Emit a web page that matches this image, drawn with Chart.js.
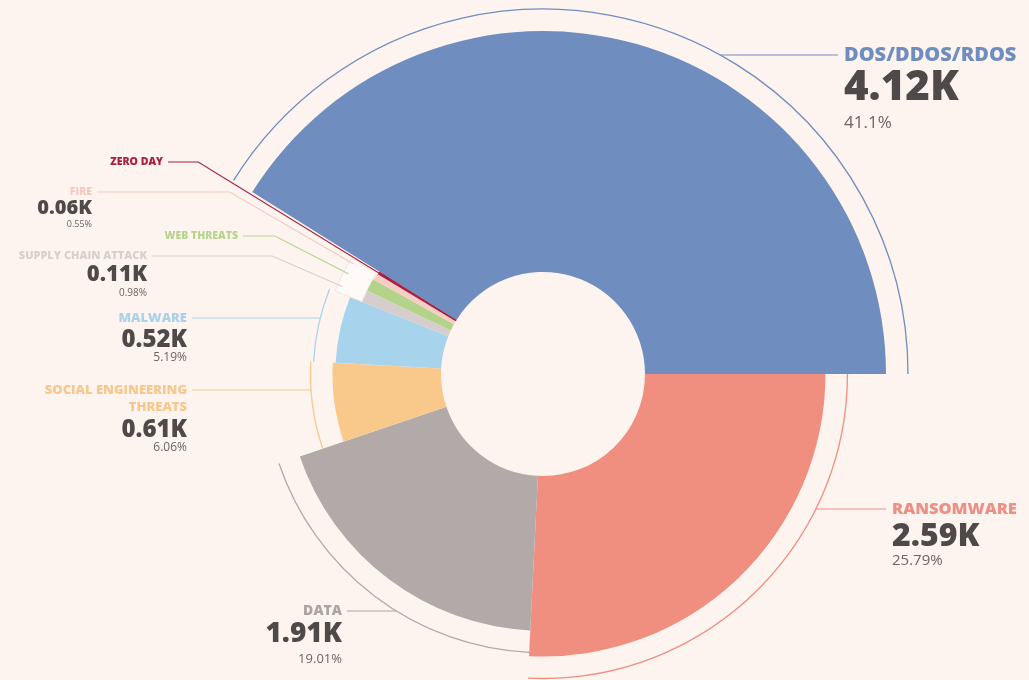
<!DOCTYPE html>
<html>
<head>
<meta charset="utf-8">
<script src="https://cdn.jsdelivr.net/npm/chart.js@4.4.1/dist/chart.umd.min.js"></script>
<style>
  html, body { margin: 0; padding: 0; background: #fdf4f0; }
  #wrap { width: 1029px; height: 680px; position: relative; }
</style>
</head>
<body>
<div id="wrap"><canvas id="threats"></canvas></div>
<script>
// DATA
const categories = [
  "DOS/DDOS/RDOS",
  "RANSOMWARE",
  "DATA",
  ["SOCIAL ENGINEERING", "THREATS"],
  "MALWARE",
  "SUPPLY CHAIN ATTACK",
  "WEB THREATS",
  "FIRE",
  "ZERO DAY",
];
const shares = [41.1, 25.79, 19.01, 6.06, 5.19, 0.98, 1.07, 0.55, 0.25]; // percent
const counts = [4.12, 2.59, 1.91, 0.61, 0.52, 0.11, 0.1, 0.06, 0.03]; // thousands

// COLORS
const sliceColors = ["#6f8dbf", "#f08e80", "#b2aaa8", "#f9c98b", "#a8d3ec", "#d5cecd", "#b4d38a", "#f5cdc4", "#a9203e"];
const titleColors = ["#6f8dbf", "#ee8f85", "#aaa4a3", "#f6c88e", "#a9d2ea", "#d6d0cf", "#b7d48f", "#f3c9c0", "#a9203e"];
const valueColor = "#4f4a49";
const pctColor = "#6b6564";

// LAYOUT (label positions, not data)
const layout = [
  { side: "right", x: 844, lines: [55], valueY: 88, pctY: 123, size: [20, 42, 17], lead: "h" },
  { side: "right", x: 892, lines: [509], valueY: 537, pctY: 561, size: [16.5, 32, 15], lead: "h" },
  { side: "left", x: 342, lines: [611], valueY: 634, pctY: 659, size: [14, 28, 13], lead: "h" },
  { side: "left", x: 187, lines: [390, 407], valueY: 430, pctY: 448, size: [13, 24, 12], lead: "h" },
  { side: "left", x: 187, lines: [318], valueY: 340, pctY: 358, size: [13, 24, 12], lead: "h" },
  { side: "left", x: 147, lines: [256], valueY: 275, pctY: 293, size: [11, 22, 10], lead: "r" },
  { side: "left", x: 238, lines: [236], size: [10.5], lead: "r" },
  { side: "left", x: 92, lines: [192], valueY: 208, pctY: 224, size: [10.5, 20, 9], lead: "r" },
  { side: "left", x: 163, lines: [162], size: [10.5], lead: "r" },
];

const HOLE = 102;
const R_MIN = 193;
const R_MAX = 343;
const RING_GAP = 22;
const FONT = "'Open Sans', 'Noto Sans', sans-serif";

// outer radius grows with the share
function outerFor(v) {
  const lo = Math.min(...shares);
  const hi = Math.max(...shares);
  const t = (v - lo) / (hi - lo);
  return R_MIN + (R_MAX - R_MIN) * Math.pow(t, 1.1);
}

const total = shares.reduce((a, b) => a + b, 0);

const shapePlugin = {
  id: "shape",
  afterDatasetsUpdate(chart) {
    chart.getDatasetMeta(0).data.forEach((arc, i) => {
      arc.innerRadius = HOLE;
      arc.outerRadius = outerFor(shares[i]);
    });
  },
  afterDatasetsDraw(chart) {
    const c = chart.ctx;
    const arcs = chart.getDatasetMeta(0).data;
    const cx = arcs[0].x;
    const cy = arcs[0].y;
    c.save();

    // pale box outside the small slices
    c.beginPath();
    c.arc(cx, cy, R_MIN + 31, arcs[5].startAngle, arcs[7].endAngle);
    c.arc(cx, cy, R_MIN + 2, arcs[7].endAngle, arcs[5].startAngle, true);
    c.closePath();
    c.fillStyle = "#fffaf8";
    c.fill();
    c.strokeStyle = "#efe5e1";
    c.lineWidth = 1;
    c.stroke();

    // thin outline arcs for the big slices
    for (let i = 0; i < 5; i++) {
      const a = arcs[i];
      c.beginPath();
      c.arc(cx, cy, a.outerRadius + RING_GAP, a.startAngle, a.endAngle);
      c.strokeStyle = sliceColors[i];
      c.lineWidth = 1.3;
      c.stroke();
    }

    // leaders + labels
    layout.forEach((L, i) => {
      const a = arcs[i];
      const y = L.lines[0];
      c.strokeStyle = titleColors[i];
      c.lineWidth = 1.2;
      c.beginPath();
      if (L.lead === "h") {
        const R = a.outerRadius + RING_GAP;
        const dx = Math.sqrt(Math.max(R * R - (y - cy) * (y - cy), 0));
        if (L.side === "right") {
          c.moveTo(L.x - 6, y);
          c.lineTo(cx + dx, y);
        } else {
          c.moveTo(L.x + 5, y);
          c.lineTo(cx - dx, y);
        }
      } else {
        const ang = (a.startAngle + a.endAngle) / 2;
        const r1 = (y - cy) / Math.sin(ang);
        const r2 = i === 8 ? HOLE : R_MIN + 26;
        c.moveTo(L.x + 5, y);
        c.lineTo(cx + r1 * Math.cos(ang), y);
        c.lineTo(cx + r2 * Math.cos(ang), cy + r2 * Math.sin(ang));
      }
      c.stroke();

      c.textAlign = L.side === "right" ? "left" : "right";
      c.textBaseline = "middle";
      const names = Array.isArray(categories[i]) ? categories[i] : [categories[i]];
      c.fillStyle = titleColors[i];
      c.font = "800 " + L.size[0] + "px " + FONT;
      names.forEach((t, k) => c.fillText(t, L.x, L.lines[k]));
      if (L.valueY) {
        c.fillStyle = valueColor;
        c.font = "800 " + L.size[1] + "px " + FONT;
        c.fillText(counts[i].toFixed(2) + "K", L.x, L.valueY);
        c.fillStyle = pctColor;
        c.font = L.size[2] + "px " + FONT;
        c.fillText(shares[i] + "%", L.x, L.pctY);
      }
    });
    c.restore();
  },
};

new Chart(document.getElementById("threats"), {
  type: "doughnut",
  data: {
    labels: categories,
    datasets: [
      {
        data: shares,
        backgroundColor: sliceColors,
        borderWidth: 0,
      },
    ],
  },
  options: {
    responsive: true,
    maintainAspectRatio: false,
    animation: false,
    events: [],
    rotation: 90 - (360 * shares[0]) / total,
    cutout: HOLE,
    layout: { padding: { left: 57, right: 0, top: 68, bottom: 0 } },
    plugins: {
      legend: { display: false },
      tooltip: { enabled: false },
    },
  },
  plugins: [shapePlugin],
});
</script>
</body>
</html>
